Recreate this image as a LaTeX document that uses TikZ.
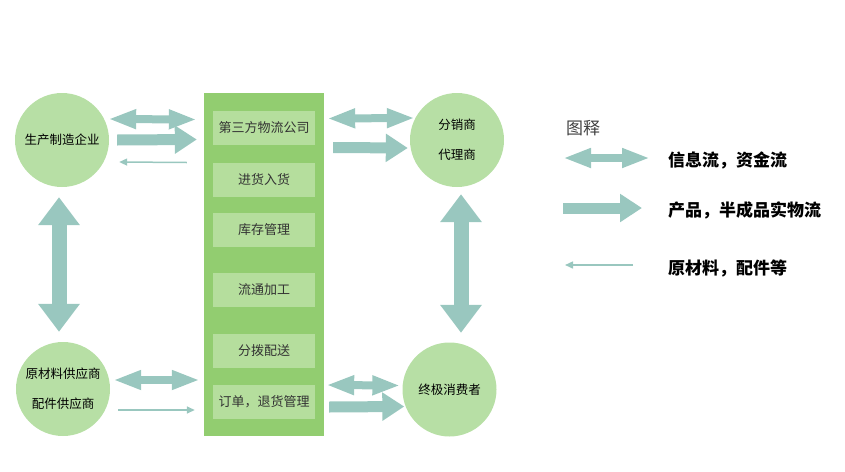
\documentclass[tikz,border=0pt]{standalone}
\usepackage{fontspec}
\setmainfont{Noto Sans CJK SC}
\usetikzlibrary{arrows.meta}
\definecolor{jt}{RGB}{153,199,191}
\definecolor{yq}{RGB}{183,223,165}
\definecolor{zl}{RGB}{146,205,112}
\definecolor{kk}{RGB}{181,222,157}
\begin{document}
\begin{tikzpicture}[x=1pt,y=-1pt,
	qy/.style={circle,fill=yq,minimum size=94pt,inner sep=0pt,align=center,font=\fontsize{12.5}{30}\selectfont},
	hj/.style={fill=kk,minimum width=102pt,minimum height=34pt,inner sep=0pt,text=black!80,font=\fontsize{13}{15}\selectfont},
	info/.style={jt,line width=8pt,{Triangle[length=28pt,width=18pt]}-{Triangle[length=28pt,width=18pt]}},
	wu/.style={jt,line width=11pt,-{Triangle[length=22pt,width=27pt]}},
	cl/.style={jt,line width=1.5pt,-{Triangle[length=8pt,width=7pt]}},
	sx/.style={jt,line width=15pt,{Triangle[length=28pt,width=40pt]}-{Triangle[length=28pt,width=40pt]}},
	tl/.style={anchor=west,inner sep=0pt,font=\fontsize{17}{19}\selectfont\bfseries}]
	\useasboundingbox(0,0)rectangle(845,471);
	\node(sc)[qy]at(62,140){生产制造企业};
	\node(ys)[qy]at(63,389){原材料供应商\\配件供应商};
	\node(fx)[qy]at(457,140){分销商\\代理商};
	\node(xf)[qy]at(449.5,389.5){终极消费者};
	\node(col)[fill=zl,minimum width=120pt,minimum height=343pt,inner sep=0pt]at(264,264.5){};
	\node(b1)[hj]at(264,127.5){第三方物流公司};
	\node(b2)[hj]at(264,179.5){进货入货};
	\node(b3)[hj]at(264,230){库存管理};
	\node(b4)[hj]at(264,290){流通加工};
	\node(b5)[hj]at(264,350.5){分拨配送};
	\node(b6)[hj]at(264,402){订单，退货管理};
	% left top
	\draw[info]([xshift=-1pt,yshift=21pt]sc.east)--([xshift=-16pt,yshift=8pt]b1.west);
	\draw[wu]([xshift=8pt]sc.east)--([xshift=-16pt,yshift=-12pt]b1.west);
	\draw[cl]([xshift=-26pt,yshift=-35pt]b1.west)--([xshift=10pt,yshift=-22pt]sc.east);
	% right top
	\draw[info]([xshift=12pt,yshift=9pt]b1.east)--([xshift=5pt,yshift=22pt]fx.west);
	\draw[wu]([xshift=18pt,yshift=-20pt]b1.east)--([xshift=-2pt,yshift=-8pt]fx.west);
	% left bottom
	\draw[info]([xshift=3pt,yshift=9pt]ys.east)--([xshift=-13pt,yshift=22pt]b6.west);
	\draw[cl]([xshift=8pt,yshift=-21pt]ys.east)--([xshift=-18pt,yshift=-8pt]b6.west);
	% right bottom
	\draw[info]([xshift=11pt,yshift=17pt]b6.east)--([xshift=-2pt,yshift=4pt]xf.west);
	\draw[wu]([xshift=14pt,yshift=-5pt]b6.east)--([xshift=2pt,yshift=-17pt]xf.west);
	% vertical
	\draw[sx]([xshift=-3pt,yshift=-10pt]sc.south)--([xshift=-4pt,yshift=10pt]ys.north);
	\draw[sx]([xshift=4pt,yshift=-7pt]fx.south)--([xshift=11.5pt,yshift=9.5pt]xf.north);
	% legend
	\node(tu)[text=black!75,font=\fontsize{17}{19}\selectfont]at(583,128){图释};
	\node(t1)[tl]at(668,160){信息流，资金流};
	\node(t2)[tl]at(668,210){产品，半成品实物流};
	\node(t3)[tl]at(668,268){原材料，配件等};
	\coordinate(l1)at(563,158);
	\coordinate(l2)at(563,208);
	\coordinate(l3)at(565,265);
	\draw[info](l1)--([xshift=-18pt,yshift=2pt]t1.west);
	\draw[wu](l2)--([xshift=-26pt,yshift=2pt]t2.west);
	\draw[cl]([xshift=-35pt,yshift=3pt]t3.west)--(l3);
\end{tikzpicture}
\end{document}
